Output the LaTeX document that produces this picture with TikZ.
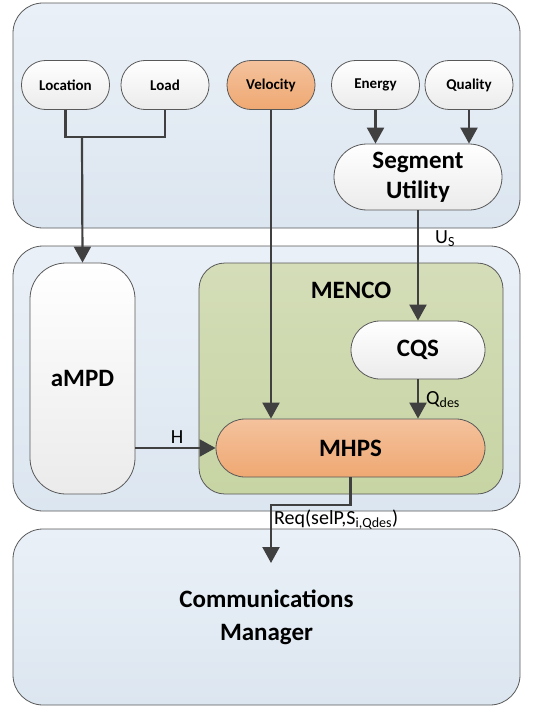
\documentclass[tikz,border=0pt]{standalone}
\usepackage{fontspec}
\setmainfont{Carlito}
\usetikzlibrary{arrows.meta}
\definecolor{edge}{HTML}{404040}
\definecolor{frameline}{HTML}{595959}
\definecolor{paneltop}{HTML}{EAF0F7}
\definecolor{panelbot}{HTML}{DCE6F0}
\definecolor{pilltop}{HTML}{FFFFFF}
\definecolor{pillbot}{HTML}{EBEBEB}
\definecolor{orangetop}{HTML}{F4C29D}
\definecolor{orangebot}{HTML}{EFA872}
\definecolor{greentop}{HTML}{D4DDB8}
\definecolor{greenbot}{HTML}{C7D4A3}
\tikzset{
  panel/.style={draw=frameline, line width=0.8pt, rounded corners=30pt,
    top color=paneltop, bottom color=panelbot, inner sep=0pt},
  pill/.style={draw=frameline, line width=0.8pt, rounded corners=24pt,
    top color=pilltop, bottom color=pillbot, inner sep=0pt,
    minimum width=88pt, minimum height=49pt, font=\fontsize{15}{17}\selectfont\bfseries},
  bigpill/.style={draw=frameline, line width=0.8pt, inner sep=0pt,
    top color=pilltop, bottom color=pillbot, align=center,
    font=\fontsize{25}{30}\selectfont\bfseries},
  hot/.style={top color=orangetop, bottom color=orangebot},
  arr/.style={draw=edge, line width=2.2pt, -{Triangle[width=17pt,length=16pt]}},
  wire/.style={draw=edge, line width=2.2pt},
  lbl/.style={font=\fontsize{20}{22}\selectfont, inner sep=0pt, text=black},
}
\begin{document}
\begin{tikzpicture}[x=1pt, y=-1pt]
\useasboundingbox (0,0) rectangle (548,706);

% three layers
\node[panel, minimum width=507pt, minimum height=225pt] (top) at (266.5,115.5) {};
\node[panel, minimum width=507pt, minimum height=265pt] (mid) at (266.5,378.5) {};
\node[panel, minimum width=507pt, minimum height=176pt, align=center,
      font=\fontsize{25}{33}\selectfont\bfseries] (bot) at (266.5,617) {Communications\\Manager};

% inputs
\node[pill] (loc) at (65.5,85) {Location};
\node[pill] (load) at (165,85) {Load};
\node[pill, hot] (vel) at (271,85) {Velocity};
\node[pill] (energy) at (375.5,85) {Energy};
\node[pill] (quality) at (469,85) {Quality};

\node[bigpill, rounded corners=33pt, minimum width=168pt, minimum height=66pt] (su) at (418,177) {Segment\\Utility};

% middle layer
\node[bigpill, rounded corners=36pt, minimum width=105pt, minimum height=231pt] (ampd) at (82.5,378.5) {aMPD};
\node[draw=frameline, line width=0.8pt, rounded corners=26pt, top color=greentop, bottom color=greenbot,
      minimum width=304pt, minimum height=231pt, inner sep=0pt] (menco) at (351,378.5) {};
\node[font=\fontsize{25}{30}\selectfont\bfseries, inner sep=0pt] (mencolbl) at (351,290) {MENCO};
\node[bigpill, rounded corners=29pt, minimum width=134pt, minimum height=58pt] (cqs) at (418,350) {CQS};
\node[bigpill, hot, rounded corners=29pt, minimum width=269pt, minimum height=58pt] (mhps) at (350.5,448) {MHPS};

% connectors
\coordinate (j) at (82,137);
\draw[wire] (loc.south) -- (loc.south |- j) -- (load.south |- j) -- (load.south);
\draw[arr] (j) -- (ampd.north);
\draw[arr] (vel.south) -- (vel.south |- mhps.north);
\draw[arr] (energy.south) -- (energy.south |- su.north);
\draw[arr] (quality.south) -- (quality.south |- su.north);
\draw[arr] (su.south) -- (cqs.north);
\draw[arr] (cqs.south) -- (cqs.south |- mhps.north);
\draw[arr] (ampd.east |- mhps.west) -- (mhps.west);
\coordinate (rq) at (271,505);
\coordinate (rt) at (271,563);
\draw[arr] (mhps.south) |- (rq) -- (rt);

% labels
\node[lbl, anchor=west] (us) at (435,239) {U\textsubscript{S}};
\node[lbl, anchor=west] (qd) at (426,400) {Q\textsubscript{des}};
\node[lbl] (h) at (177,437) {H};
\node[lbl, anchor=west] (req) at (274,520) {Req(selP,S\textsubscript{i,Qdes})};
\end{tikzpicture}
\end{document}
